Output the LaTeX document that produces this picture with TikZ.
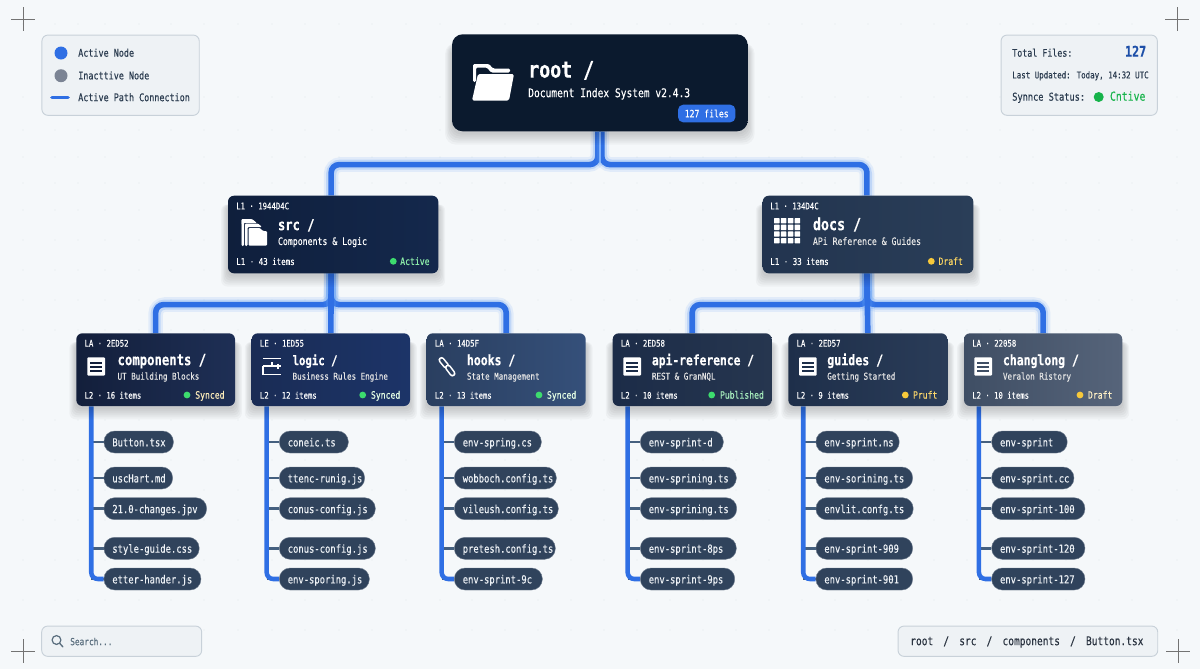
\documentclass[tikz,border=0pt]{standalone}
\usepackage{fontspec}
\setmainfont{DejaVu Sans Mono}[FakeStretch=0.80,FakeBold=0.3]
\usetikzlibrary{calc}
\pgfdeclarelayer{dotsl}\pgfdeclarelayer{wirel}\pgfdeclarelayer{shdl}
\pgfsetlayers{dotsl,wirel,shdl,main}
\definecolor{pagebg}{HTML}{F5F8FA}
\definecolor{griddot}{HTML}{E1E7EC}
\definecolor{wireblue}{HTML}{2F6FE4}
\definecolor{wirelight}{HTML}{7FB2FA}
\definecolor{glowblue}{HTML}{5B9BF5}
\definecolor{branchc}{HTML}{45607F}
\definecolor{panelbg}{HTML}{EEF2F5}
\definecolor{panelln}{HTML}{C8D1D9}
\definecolor{paneltx}{HTML}{2A3B4F}
\definecolor{pillc}{HTML}{30435C}
\definecolor{pilltx}{HTML}{EEF2F6}
\definecolor{stgreen}{HTML}{3DDC6E}
\definecolor{styellow}{HTML}{F8C93A}
\definecolor{rootc}{HTML}{0B1A2E}
\definecolor{inactivec}{HTML}{7B8494}
\definecolor{bigblue}{HTML}{1D4FA8}
\definecolor{syncgreen}{HTML}{16B34A}
\definecolor{searchc}{HTML}{5A6E7E}
\definecolor{crumbc}{HTML}{2A3340}
\definecolor{SrcA}{HTML}{0F1F3C}\definecolor{SrcB}{HTML}{14284C}
\definecolor{DocsA}{HTML}{22344F}\definecolor{DocsB}{HTML}{2A3E58}
\definecolor{CompA}{HTML}{131F3B}\definecolor{CompB}{HTML}{1E2F55}
\definecolor{LogicA}{HTML}{1A2C55}\definecolor{LogicB}{HTML}{1C3468}
\definecolor{HooksA}{HTML}{2A3F60}\definecolor{HooksB}{HTML}{35507A}
\definecolor{ApiA}{HTML}{1C2C48}\definecolor{ApiB}{HTML}{26364F}
\definecolor{GuideA}{HTML}{1E2F4A}\definecolor{GuideB}{HTML}{2A3C58}
\definecolor{ChlogA}{HTML}{3F4E64}\definecolor{ChlogB}{HTML}{56647A}
\newcommand\fz[1]{\fontsize{#1}{#1}\selectfont}
\def\cardrad{4.5pt}
\tikzset{
  x=0.75pt,y=-0.75pt,
  cardbase/.style={rectangle,inner sep=0pt,rounded corners=\cardrad},
  lbl/.style={anchor=mid west,inner sep=0pt,text=white},
  panel/.style={rectangle,draw=panelln,fill=panelbg,line width=.7pt,rounded corners=4.5pt,inner sep=0pt},
  ptext/.style={anchor=mid west,inner sep=0pt,text=paneltx},
  pillnode/.style={rectangle,fill=pillc,draw=pillc!70!white,line width=.3pt,rounded corners=8pt,inner ysep=0pt,inner xsep=6.3pt,minimum height=16.5pt,text=pilltx,align=left,font=\fz{8.3},text height=1.55ex,text depth=.35ex},
  glowA/.style={draw=glowblue,opacity=.13,line width=11pt,line cap=round},
  glowB/.style={draw=glowblue,opacity=.25,line width=7.6pt,line cap=round},
  wire/.style={draw=wireblue,line width=4.2pt},
  trunkw/.style={draw=wireblue,line width=3.4pt},
  branchw/.style={draw=branchc,line width=2.2pt},
  cross/.style={draw=black!55,line width=.5pt},
}
\newcommand\gwire[1]{%
  \begin{pgfonlayer}{wirel}
  \draw[glowA,rounded corners=7pt]#1;
  \draw[glowB,rounded corners=7pt]#1;
  \draw[wire,rounded corners=6pt]#1;
  \end{pgfonlayer}}
% name, x1, x2, y1, y2, left colour, right colour
\newcommand\cardbox[7]{%
  \pgfmathsetmacro\cbw{(#3-#2)*0.75}\pgfmathsetmacro\cbh{(#5-#4)*0.75}%
  \node[cardbase,left color=#6,right color=#7,minimum width=\cbw pt,minimum height=\cbh pt] (#1) at ({(#2+#3)/2},{(#4+#5)/2}) {};
  \begin{pgfonlayer}{shdl}
  \foreach \dd in {1,3,5,7,9,11}{
    \fill[black,opacity=.032,rounded corners=\cardrad] ($(#1.north west)+({-\dd*.6},9)$) rectangle ($(#1.south east)+({\dd*.6},{2+\dd})$);
  }
  \end{pgfonlayer}}
% name x1 x2 lc rc header title titlex sub
\newcommand\ltwo[9]{%
  \cardbox{#1}{#2}{#3}{333.3}{406}{#4}{#5}
  \node[lbl,font=\fz{6.85}] (#1-h) at ({#2+8},343) {#6};
  \node[lbl,font=\bfseries] (#1-t) at (#8,361.5) {#7};
  \node[lbl,font=\fz{7.07},text=white!90!black] (#1-s) at (#8,376) {#9};
  \coordinate (#1-trunk) at ([xshift=11.4pt]#1.south west);}
\newcommand\ltwofoot[3]{% name x1 footer
  \node[lbl,font=\fz{6.8}] (#1-ft) at ({#2+8},395) {#3};}
% name dotx textx dotcolor textcolor text y
\newcommand\cstat[7]{%
  \fill[#4] (#2,#7) circle[radius=3.4];
  \node[lbl,font=\fz{7.6},text=#5] (#1-st) at (#3,#7) {#6};}
\newcommand\docicon[3]{% x y linecolour
  \fill[white,rounded corners=.8pt] (#1,#2) rectangle ({#1+17.7},{#2+18.4});
  \foreach \kk in {4.3,8.4,12.5}{\fill[#3] ({#1+2.8},{#2+\kk}) rectangle ({#1+14.9},{#2+\kk+1.9});}}
% name list
\newcommand\filecol[2]{%
  \coordinate (#1-p) at ($(#1-trunk)+(12.5,0)$);
  \foreach \ii/\rr/\ft in {#2}{
    \pgfmathsetmacro\yy{{0,442,478,508.7,548.3,579}[\ii]}
    \pgfmathsetmacro\pw{(\rr)*0.75-12.6}
    \node[pillnode,anchor=west,text width=\pw pt] (#1-f\ii) at (#1-p |- 0,\yy) {\mbox{\ft}};
    \begin{pgfonlayer}{wirel}
    \draw[branchw] (#1-f\ii.west -| #1-trunk) -- (#1-f\ii.west);
    \end{pgfonlayer}
  }
  \begin{pgfonlayer}{wirel}
  \draw[trunkw,rounded corners=5pt] (#1-trunk) |- (#1-f5.west);
  \end{pgfonlayer}}
\begin{document}
\begin{tikzpicture}
\useasboundingbox (0,0) rectangle (1200,669);
\begin{pgfonlayer}{dotsl}
\fill[pagebg] (0,0) rectangle (1200,669);
\fill[griddot] \foreach \gy in {24,97,130,157,183,210,240,270,300,330,420,460,490,520,560,600,630}{
  \foreach \gx in {23,55,78,105,139,171,204,238,272,305,339,372,406,440,472,505,538,571,604,637,670,703,736,769,802,835,868,901,934,967,1000,1033,1066,1099,1132,1177}{
    (\gx,\gy) circle[radius=.55]}};
\end{pgfonlayer}

% crosshairs
\foreach \nn/\cx/\cy in {a/23/19,b/1177/19,c/23/651,d/1178/651}{
  \coordinate (cross\nn) at (\cx,\cy);
  \draw[cross] ($(cross\nn)+(-12,0)$) -- ($(cross\nn)+(12,0)$);
  \draw[cross] ($(cross\nn)+(0,-12)$) -- ($(cross\nn)+(0,12)$);
}

% legend
\node[panel,minimum width=118pt,minimum height=60.2pt] (legend) at (120.6,75.2) {};
\fill[wireblue] (61,53) circle[radius=6.5];
\fill[inactivec] (61,75.7) circle[radius=6.5];
\draw[wireblue,line width=2.8pt,line cap=round] (52,97.5) -- (68,97.5);
\node[ptext,font=\fz{7.9}] (leg1) at (78,53) {Active Node};
\node[ptext,font=\fz{7.9}] (leg2) at (78,75.7) {Inacttive Node};
\node[ptext,font=\fz{7.9}] (leg3) at (78,97.5) {Active Path Connection};

% stats
\node[panel,minimum width=117.2pt,minimum height=60.2pt] (stats) at (1079.2,75.2) {};
\node[ptext,font=\fz{7.8}] (st1) at (1012,53) {Total Files:};
\node[anchor=mid east,inner sep=0pt,text=bigblue,font=\fz{11}\bfseries] (st2) at (1146.5,53) {127};
\node[ptext,font=\fz{7.0}] (st3) at (1012,74.7) {Last Updated: Today, 14:32 UTC};
\node[ptext,font=\fz{8.1}] (st4) at (1012,97) {Synnce Status:};
\fill[syncgreen] (1098.7,97) circle[radius=5];
\node[ptext,font=\fz{9.2},text=syncgreen] (st5) at (1109.7,97) {Cntive};

% search + breadcrumb
\node[panel,minimum width=120pt,minimum height=22.7pt] (search) at (121.7,641.2) {};
\draw[searchc,line width=.9pt] (56.5,640) circle[radius=4.4];
\draw[searchc,line width=1pt,line cap=round] (59.8,643.4) -- (62.8,646.8);
\node[ptext,font=\fz{7.3},text=searchc] (searcht) at (70,641.5) {Search...};
\node[panel,minimum width=194.8pt,minimum height=22.7pt] (crumb) at (1027.9,641.2) {};
\node[ptext,font=\fz{8.95},text=crumbc] (crumbt) at (910,641.5) {root\hspace{7.6pt}/\hspace{7.6pt}src\hspace{7.6pt}/\hspace{7.6pt}components\hspace{7.6pt}/\hspace{7.6pt}Button.tsx};

% root
\def\cardrad{8pt}
\cardbox{root}{452}{747.7}{34.3}{131.3}{rootc}{rootc}
\def\cardrad{4.5pt}
\node[lbl,font=\fz{17.1}\bfseries] (root-t) at (528,74) {root /};
\node[lbl,font=\fz{9}] (root-s) at (528,93.5) {Document Index System v2.4.3};
\node[rectangle,fill=wireblue,rounded corners=3.8pt,inner sep=0pt,minimum width=43pt,minimum height=13.2pt,text=white,font=\fz{7.6}] (root-b) at (706.7,113.5) {127 files};
\fill[white,rounded corners=1pt] (473,82) -- (473,64) -- (489,64) -- (493,68.5) -- (510,68.5) -- (510,72.5) -- (491,72.5) -- (487,67.5) -- (476,67.5) -- (476,82) -- cycle;
\fill[white,rounded corners=1.2pt] (478,74) -- (514,74) -- (509,100.5) -- (472,100.5) -- cycle;

% level 1
\cardbox{src}{228}{438.3}{195.7}{273.3}{SrcA}{SrcB}
\node[lbl,font=\fz{6.85}] (src-h) at (236,205.7) {L1 · 1944D4C};
\node[lbl,font=\fz{11.4}\bfseries] (src-t) at (277.7,226.5) {src /};
\node[lbl,font=\fz{7.7}] (src-s) at (277.7,241.3) {Components \& Logic};
\node[lbl,font=\fz{7}] (src-f) at (236,261.3) {L1 · 43 items};
\cstat{src}{393.3}{400}{stgreen}{stgreen!60!white}{Active}{261.3}
\fill[white,rounded corners=.8pt] (241.5,219) -- (252,219) -- (257,223) -- (241.5,223) -- (241.5,246) -- cycle;
\fill[white,rounded corners=.8pt] (241.5,219) rectangle (244,246);
\fill[white,rounded corners=.8pt] (245,223.5) -- (258,223.5) -- (262,227) -- (247.5,227) -- (247.5,246) -- (245,246) -- cycle;
\fill[white,rounded corners=.8pt] (248.5,228) -- (260,228) -- (263,231) -- (267,231) -- (267,245.7) -- (248.5,245.7) -- cycle;

\cardbox{docs}{762.7}{973.3}{195.7}{273.3}{DocsA}{DocsB}
\node[lbl,font=\fz{6.85}] (docs-h) at (770,205.7) {L1 · 134D4C};
\node[lbl,font=\fz{12.5}\bfseries] (docs-t) at (812.7,226.5) {docs /};
\node[lbl,font=\fz{7.65},text=white!90!black] (docs-s) at (812.7,241.3) {APi Reference \& Guides};
\node[lbl,font=\fz{7}] (docs-f) at (770,261.3) {L1 · 33 items};
\cstat{docs}{931.3}{938.3}{styellow}{styellow!80!white}{Draft}{261.3}
\foreach \ca in {0,1,2,3}{\foreach \cb in {0,1,2,3}{
  \fill[white,rounded corners=.4pt] ({774+\ca*6.9},{218+\cb*6.7}) rectangle ({774+\ca*6.9+5.5},{218+\cb*6.7+5.3});}}

% level 2
\ltwo{comp}{76.3}{235}{CompA}{CompB}{LA · 2ED52}{\fz{11.5}components /}{117.3}{UT Building Blocks}
\ltwofoot{comp}{76.3}{L2 · 16 items}
\cstat{comp}{187}{195}{stgreen}{styellow!35!white}{Synced}{395}
\docicon{87.3}{357.3}{CompA}

\ltwo{logic}{251.7}{410}{LogicA}{LogicB}{LE · 1ED55}{\fz{10}logic /}{292.3}{Business Rules Engine}
\ltwofoot{logic}{251.7}{L2 · 12 items}
\cstat{logic}{362.7}{370.7}{stgreen}{white!90!green}{Synced}{395}
\draw[white,line width=1.4pt] (263,358.5) -- (281,358.5) (263,366) -- (263,374.5) -- (281,374.5) (263,366) -- (272,366) -- (272,361.5) (272,366) -- (281,366) (278,363.5) -- (278,368.5);

\ltwo{hooks}{426.7}{585.7}{HooksA}{HooksB}{LA · 14D5F}{\fz{10.75}hooks /}{466.7}{State Management}
\ltwofoot{hooks}{426.7}{L2 · 13 items}
\cstat{hooks}{539}{546.7}{stgreen}{white!90!green}{Synced}{395}
\draw[white,line width=4.6pt,line cap=round] (441.5,360) -- (446,365.5);
\draw[HooksA,line width=2.2pt,line cap=round] (441.5,360) -- (446,365.5);
\draw[white,line width=4.6pt,line cap=round] (448,367.5) -- (452.5,373.5);
\draw[HooksA,line width=2.2pt,line cap=round] (448,367.5) -- (452.5,373.5);

\ltwo{api}{612.7}{771.7}{ApiA}{ApiB}{LA · 2ED58}{\fz{10.6}api-reference /}{651.7}{REST \& GranNQL}
\ltwofoot{api}{612.7}{L2 · 10 items}
\cstat{api}{711.7}{719.7}{stgreen}{stgreen!45!white}{Published}{395}
\docicon{623.3}{357.3}{ApiA}

\ltwo{guides}{788.3}{947.3}{GuideA}{GuideB}{LA · 2ED57}{\fz{10.9}guides /}{827}{Getting Started}
\ltwofoot{guides}{788.3}{L2 · 9 items}
\cstat{guides}{905.3}{912.7}{styellow}{styellow!75!white}{Pruft}{395}
\docicon{799}{357.3}{GuideA}

\ltwo{chlog}{964}{1122.3}{ChlogA}{ChlogB}{LA · 22058}{\fz{10.75}changlong /}{1002.7}{Veralon Ristory}
\ltwofoot{chlog}{964}{L2 · 10 items}
\cstat{chlog}{1080}{1087.7}{styellow}{styellow!30!white}{Draft}{395}
\docicon{974.3}{357.3}{ChlogA}

% connectors root -> L1
\gwire{([xshift=-1.5pt]root.south) -- ++(0,33) -| ([xshift=-1.5pt]src.north)}
\gwire{([xshift=1.5pt]root.south) -- ++(0,33) -| ([xshift=-.8pt]docs.north)}
\begin{pgfonlayer}{wirel}
\draw[wirelight,line width=1.6pt] (root.south) -- ++(0,30);
\end{pgfonlayer}
% L1 -> L2
\gwire{([xshift=-1.5pt]src.south) -- ++(0,31) -| (comp.north)}
\gwire{([xshift=-1.5pt]src.south) -- ++(0,31) -| (hooks.north)}
\gwire{([xshift=-.8pt]docs.south) -- ++(0,31) -| (api.north)}
\gwire{([xshift=-.8pt]docs.south) -- ++(0,31) -| (chlog.north)}
\gwire{([xshift=-1.5pt]src.south) -- (logic.north)}
\gwire{([xshift=-.8pt]docs.south) -- (guides.north)}

% files
\filecol{comp}{1/69.5/Button.tsx,2/68.7/uscHart.md,3/102.7/21.0-changes.jpv,4/95.3/style-guide.css,5/97/etter-hander.js}
\filecol{logic}{1/69/coneic.ts,2/85.3/ttenc-runig.js,3/96/conus-config.js,4/96/conus-config.js,5/90/env-sporing.js}
\filecol{hooks}{1/87/env-spring.cs,2/102/wobboch.config.ts,3/104/vileush.config.ts,4/101/pretesh.config.ts,5/88/env-sprint-9c}
\filecol{api}{1/83/env-sprint-d,2/96/env-sprining.ts,3/96.4/env-sprining.ts,4/96/env-sprint-8ps,5/94.4/env-sprint-9ps}
\filecol{guides}{1/83.3/env-sprint.ns,2/96.7/env-sorining.ts,3/97.3/envlit.confg.ts,4/96.7/env-sprint-909,5/96.7/env-sprint-901}
\filecol{chlog}{1/75.6/env-sprint,2/82.3/env-sprint.cc,3/93.3/env-sprint-100,4/93.3/env-sprint-120,5/93.3/env-sprint-127}
\end{tikzpicture}
\end{document}
